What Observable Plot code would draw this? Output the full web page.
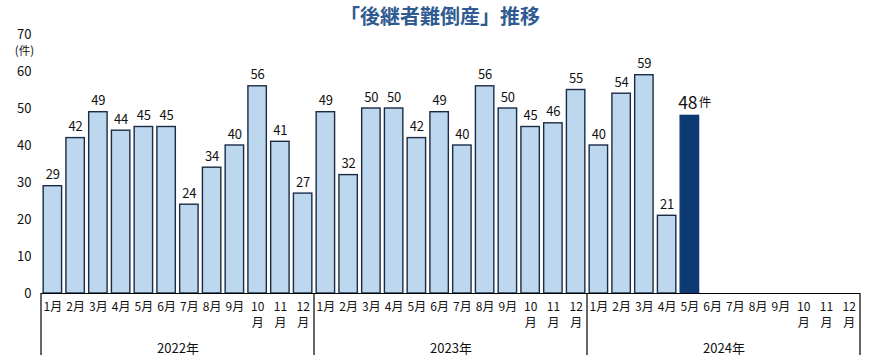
<!DOCTYPE html>
<html><head><meta charset="utf-8">
<script src="https://cdn.jsdelivr.net/npm/d3@7"></script>
<script src="https://cdn.jsdelivr.net/npm/@observablehq/plot@0.6"></script>
<style>
body{margin:0;background:#fff;font-family:"Noto Sans CJK JP",sans-serif;}
#wrap{position:relative;width:872px;height:364px;}
#title{position:absolute;top:1px;left:0;width:880px;text-align:center;font-size:20px;font-weight:bold;color:#2f5b90;}
</style></head>
<body><div id="wrap"><div id="title">「後継者難倒産」推移</div></div>
<script>
const years = ["2022年", "2023年", "2024年"];
const monthLabels = ["1月","2月","3月","4月","5月","6月","7月","8月","9月","10\n月","11\n月","12\n月"];
const values2022 = [29,42,49,44,45,45,24,34,40,56,41,27];
const values2023 = [49,32,50,50,42,49,40,56,50,45,46,55];
const values2024 = [40,54,59,21,48];
const yTicks = [0,10,20,30,40,50,60,70];
const latestUnit = "件";

const series = [values2022, values2023, values2024];
const months = [];
years.forEach((yr, k) => monthLabels.forEach((m, j) => months.push({i: k*12 + j, label: m, year: yr})));
const bars = [];
series.forEach((vals, k) => vals.forEach((v, j) => bars.push({i: k*12 + j, value: v})));
const lastIdx = bars.length - 1;
const pad = 0.095;
const yearMid = years.map((y, k) => ({x: k*12 + 6, label: y}));
const bounds = years.map((y, k) => k*12).concat([years.length*12]);

const dark = "#1b2b45";
const font = "Noto Sans CJK JP";

const dividers = (index, scales, values, dims) => {
  const g = d3.create("svg:g");
  const y0 = scales.y(0);
  bounds.forEach(b => {
    g.append("line").attr("x1", scales.x(b)).attr("x2", scales.x(b))
      .attr("y1", y0).attr("y2", dims.height - 9)
      .attr("stroke", "#000").attr("stroke-width", 1.2);
  });
  return g.node();
};

const plot = Plot.plot({
  width: 872, height: 364,
  marginLeft: 41, marginRight: 12, marginTop: 34, marginBottom: 71,
  style: {fontFamily: font, fontSize: "13px", color: "#111", background: "transparent"},
  x: {type: "linear", domain: [0, 36], axis: null},
  y: {domain: [0, 70], ticks: yTicks, tickSize: 0, tickPadding: 10, label: null, tickFormat: d => d},
  marks: [
    Plot.rect(bars, {x1: d => d.i + pad, x2: d => d.i + 1 - pad, y1: 0, y2: "value",
      fill: d => d.i === lastIdx ? "#0e3a74" : "#bdd7ee",
      stroke: d => d.i === lastIdx ? "#0e3a74" : dark, strokeWidth: 1.4}),
    Plot.text(bars.filter(d => d.i !== lastIdx), {x: d => d.i + 0.5, y: "value", text: d => String(d.value), dy: -11, fontSize: 13, fill: "#111"}),
    Plot.text(bars.filter(d => d.i === lastIdx), {x: d => d.i + 0.5, y: "value", text: d => String(d.value), dy: -13, dx: -2, fontSize: 17.5, fill: "#111", textAnchor: "middle"}),
    Plot.text(bars.filter(d => d.i === lastIdx), {x: d => d.i + 0.5, y: "value", text: () => latestUnit, dy: -13, dx: 15, fontSize: 12.5, fill: "#111", textAnchor: "middle"}),
    Plot.ruleY([0], {stroke: "#000", strokeWidth: 1.2}),
    dividers,
    Plot.text(months, {x: d => d.i + 0.5, y: 0, text: "label", dy: 6, lineAnchor: "top", lineHeight: 1.35, fontSize: 12, fill: "#111"}),
    Plot.text(yearMid, {x: "x", y: 0, text: "label", dy: 55, fontSize: 13, fill: "#111"}),
    Plot.text(["(件)"], {x: 0, y: 70, text: d => d, dx: -17, dy: 17, fontSize: 11.5, fill: "#111", textAnchor: "middle"})
  ]
});
document.getElementById("wrap").prepend(plot);
plot.style.position = "absolute"; plot.style.top = "0"; plot.style.left = "0";
document.getElementById("title").style.zIndex = 2;
</script>
</body></html>
